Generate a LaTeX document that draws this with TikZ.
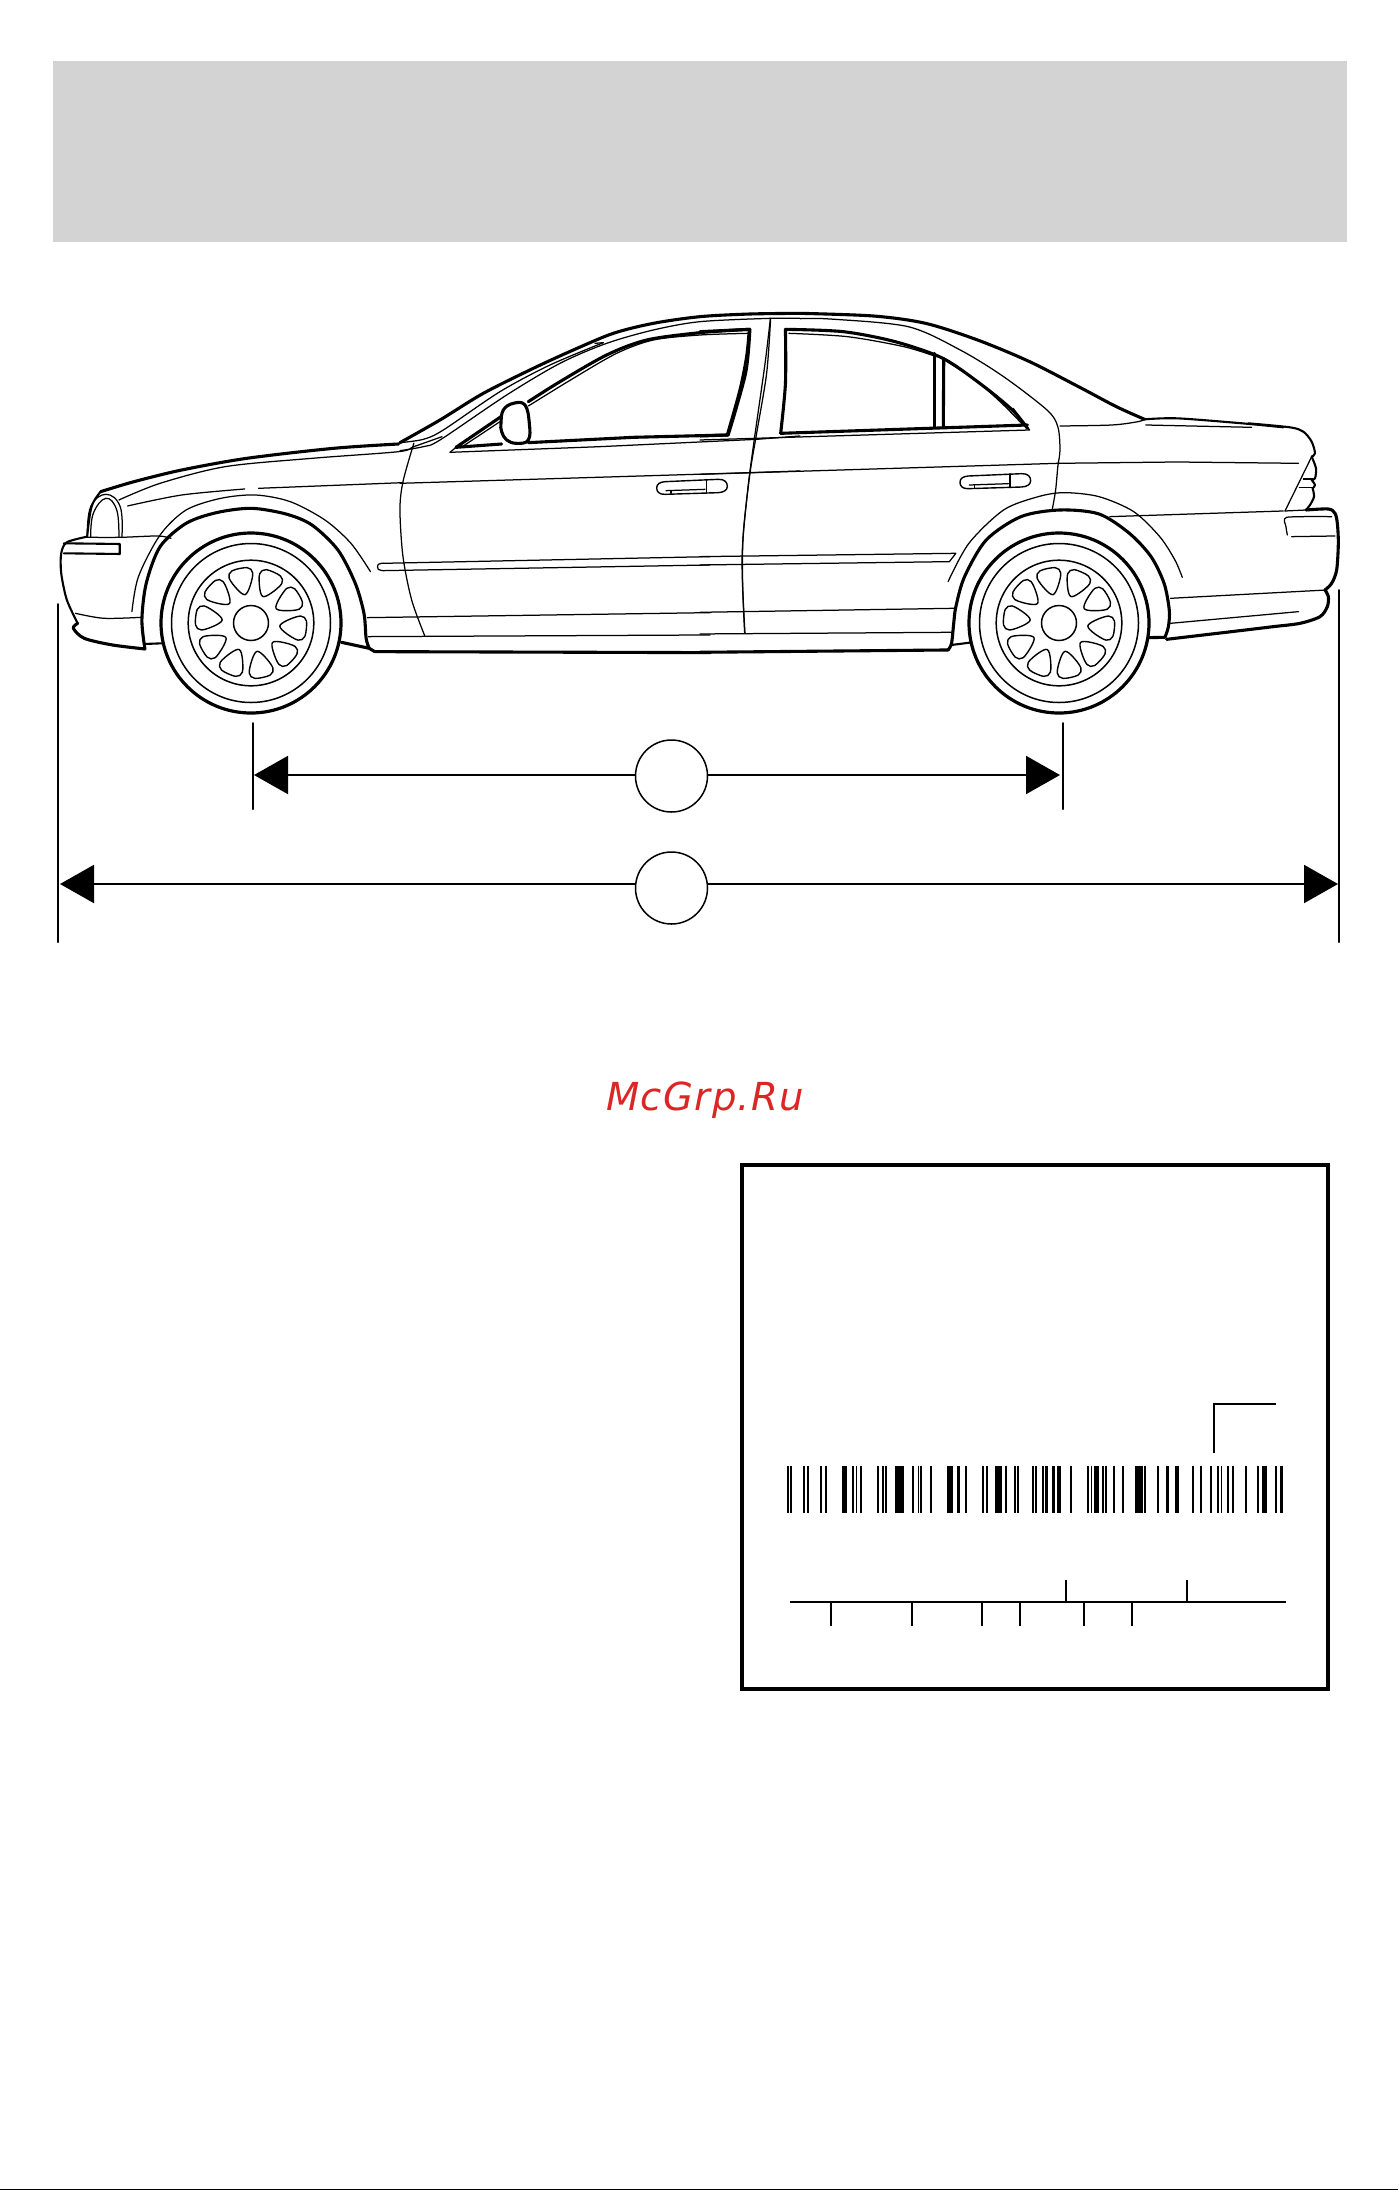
\documentclass[tikz,border=0pt]{standalone}
\usepackage{fontspec}
\usetikzlibrary{arrows.meta}
\newfontfamily\wmfont[LetterSpace=3.6]{DejaVu Sans}
\definecolor{banner}{HTML}{D3D3D3}
\definecolor{wmred}{HTML}{DC2626}
\tikzset{
  zoomA/.style={shift={(30,290)},x=.4337pt,y=-.3333pt},
  zoomB/.style={shift={(700,290)},x=.4337pt,y=-.3333pt},
  zoomC/.style={shift={(400,300)},x=.3333pt,y=-.3333pt},
  zoomD/.style={shift={(1240,400)},x=.3333pt,y=-.3333pt},
  zoomE/.style={shift={(640,460)},x=.3333pt,y=-.3333pt},
  zoomF/.style={shift={(730,1380)},x=.3827pt,y=-.3333pt},
  thk/.style={draw=black,line width=3.1pt},
  mdl/.style={draw=black,line width=2.1pt},
  thn/.style={draw=black,line width=1.25pt},
  dimline/.style={draw=black,line width=2pt,-{Triangle[length=34pt,width=38pt]}},
  extline/.style={draw=black,line width=2pt},
  dimcircle/.style={circle,draw=black,line width=1.5pt,minimum size=72pt,inner sep=0pt},
  lbl/.style={draw=black,line width=2pt},
}
\begin{document}
\begin{tikzpicture}[x=1pt,y=-1pt,line cap=round,line join=round]
\useasboundingbox (0,0) rectangle (1398,2190);
\fill[white] (0,0) rectangle (1398,2190);
\fill[banner] (53,61) rectangle (1347,242);
\fill[black] (0,2188.5) rectangle (1398,2190);

% ---- wheels
\foreach \cx in {251,1059}{
  \begin{scope}[shift={(\cx,623)}]
    \draw[line width=3.2pt] (0,0) circle (90);
    \draw[thn,line width=1.5pt] (0,0) circle (79.5);
    \draw[thn,line width=1.5pt] (0,0) circle (62.8);
    \draw[thn,line width=1.5pt] (0,0) circle (17.5);
    \foreach \a in {0,...,9}{
      \pgfmathsetmacro{\t}{36*\a-66}
      \draw[thn,line width=1.4pt] plot[smooth cycle,tension=.55] coordinates {
        ({\t}:29) ({\t+10}:36) ({\t+14}:50) ({\t+8}:55.5) ({\t-8}:55.5) ({\t-14}:50) ({\t-10}:36)};
    }
  \end{scope}
}

% ---- front half of the car
\begin{scope}[zoomA]
  \draw[thk] plot[smooth,tension=.5] coordinates {(850,462)(700,475)(500,505)(350,540)(240,575)(163,605)};
  \draw[mdl] plot[smooth,tension=.6] coordinates {(163,605)(142,650)(132,738)};
  \draw[mdl] plot[smooth,tension=.5] coordinates {(132,740)(85,757)(72,790)(72,850)(85,930)(110,1000)};
  \draw[thk] plot[smooth,tension=.5] coordinates {(110,1000)(100,1015)(125,1045)(190,1065)(265,1077)};
  \draw[thk] plot[smooth,tension=.5] coordinates {(265,1077)(258,990)(268,880)(300,770)(360,700)(430,668)(510,655)(590,672)(650,705)(710,780)(750,880)(770,970)(775,1045)(782,1075)};
  \draw[mdl] (265,1062) -- (305,1060);
  \draw[thk] (718,1057) -- (782,1075) -- (795,1085);
  \draw[thn] plot[smooth,tension=.5] coordinates {(235,965)(250,860)(300,735)(360,660)(440,625)(520,615)(600,635)(680,690)(740,760)(785,845)};
  \draw[thn] plot[smooth,tension=.5] coordinates {(105,970)(170,985)(258,982)};
  \draw[thn] plot[smooth,tension=.5] coordinates {(132,742)(210,742)(295,738)(325,745)};
  \draw[mdl] (78,760) -- (207,762) -- (207,792) -- (78,790);
  \draw[thn] plot[smooth,tension=.7] coordinates {(140,740)(146,670)(175,625)(200,660)(205,740)};
  \draw[thn] plot[smooth,tension=.7] coordinates {(132,735)(140,650)(175,613)(208,650)(212,740)};
  \draw[thn] plot[smooth,tension=.5] coordinates {(205,630)(300,580)(450,530)(650,505)(850,485)(885,470)(950,440)};
  \draw[thn] plot[smooth,tension=.5] coordinates {(225,648)(350,615)(495,597)};
  \draw[thn] (527,595) -- (860,578);
  \draw[thn] plot[smooth,tension=.5] coordinates {(885,460)(860,575)(853,660)(860,800)(880,930)(910,1037)};
  \draw[thn] plot[smooth,tension=.7] coordinates {(815,820)(803,823)(803,838)(815,842)};
  \draw[thn] (815,820) -- (1568,800);
  \draw[thn] (815,842) -- (1568,825);
  \draw[thn] (778,983) -- (1568,968);
  \draw[thn] (780,1040) -- (1568,1035);
  \draw[thk] (795,1085) -- (1568,1088);
\end{scope}

% ---- doors and glass, middle of the car
\begin{scope}[zoomC]
  \draw[thk] plot[smooth,tension=.5] coordinates {(0,428)(120,360)(250,280)(400,205)(520,150)(640,100)(760,70)(900,50)(1050,42)(1200,40)};
  \draw[thn] plot[smooth,tension=.5] coordinates {(0,428)(70,418)(130,390)(300,275)(450,195)(610,128)};
  \draw[thn] (610,128) -- (585,130);
  \draw[thn] plot[smooth,tension=.5] coordinates {(0,452)(70,440)(120,420)(320,285)(480,190)(620,130)(760,90)(900,65)(1110,55)(1200,55)};
  \draw[thk] plot[smooth,tension=.5] coordinates {(385,305)(480,245)(620,165)(740,120)(900,98)(1048,88)};
  \draw[thk] plot[smooth,tension=.5] coordinates {(1048,88)(1040,170)(1020,270)(982,405)};
  \draw[thk] (982,405) -- (700,412) -- (385,428);
  \draw[thk] (305,432) -- (168,442) -- (303,350);
  \draw[thn] (190,438) -- (300,365);
  \draw[thn] plot[smooth,tension=.5] coordinates {(385,318)(520,235)(650,160)(760,120)(900,105)(1045,100)};
  \draw[thn] (168,442) -- (150,457);
  \draw[thn] (150,457) -- (600,440) -- (1070,418) -- (1200,408);
  \draw[thk] plot[smooth cycle,tension=.7] coordinates {(303,370)(310,330)(340,310)(375,315)(388,370)(385,420)(350,430)(320,420)(305,395)};
  \draw[thn] (0,550) -- (1050,518) -- (1200,513);
  \draw[thn] plot[smooth,tension=.5] coordinates {(1112,55)(1100,220)(1070,400)(1050,520)(1030,700)(1028,850)(1035,1000)};
\end{scope}

% ---- door handles
\begin{scope}[zoomE]
  \foreach \dx/\dy in {0/0,910/-17}{
    \begin{scope}[shift={(\dx,\dy)}]
      \draw[thn,line width=1.4pt] (75,65) -- (235,58) .. controls (255,57) and (262,68) .. (262,79) .. controls (262,90) and (252,97) .. (235,98) -- (75,103) .. controls (58,104) and (50,95) .. (50,84) .. controls (50,72) and (60,66) .. (75,65) -- cycle;
      \draw[thn,line width=1.6pt] (200,59) -- (200,99);
      \draw[thn] (78,92) -- (195,88);
      \draw[thn] (93,92) -- (93,100);
    \end{scope}
  }
\end{scope}

% ---- rear half of the car
\begin{scope}[zoomB]
  \draw[thk] plot[smooth,tension=.5] coordinates {(231,70)(400,78)(520,100)(640,150)(760,215)(880,295)(960,350)(1025,388)};
  \draw[mdl] plot[smooth,tension=.5] coordinates {(1025,388)(1100,385)(1250,400)(1345,412)};
  \draw[thn] plot[smooth,tension=.5] coordinates {(231,86)(300,87)(480,110)(600,180)(700,260)(800,360)(825,410)(830,480)(825,530)(820,600)(812,660)};
  \draw[thk] plot[smooth,tension=.5] coordinates {(197,118)(330,125)(450,155)(560,205)(650,285)(720,360)(755,415)};
  \draw[thn] plot[smooth,tension=.5] coordinates {(205,130)(340,140)(470,170)(545,200)};
  \draw[thn] plot[smooth,tension=.5] coordinates {(570,215)(640,275)(700,345)(745,405)};
  \draw[thk] plot[smooth,tension=.5] coordinates {(186,430)(197,280)(197,118)};
  \draw[thk] (186,430) -- (755,405);
  \draw[thk] (541,190) -- (541,412);
  \draw[thk] (562,205) -- (561,412);
  \draw[thk] (0,125) -- (115,118);
  \draw[thk] plot[smooth,tension=.5] coordinates {(115,118)(105,250)(65,435)};
  \draw[thk] (0,438) -- (65,435);
  \draw[thn] (0,450) -- (760,420) -- (722,355);
  \draw[thn] plot[smooth,tension=.5] coordinates {(830,408)(950,405)(1010,395)(1025,388)};
  \draw[thn] (1028,405) -- (1272,412);
  \draw[thn] (0,553) -- (825,520) -- (1100,516) -- (1380,520);
  \draw[thn] plot[smooth,tension=.5] coordinates {(162,88)(150,220)(125,450)(110,600)(97,800)(103,1030)};
  \draw[thn] (0,800) -- (590,790) -- (575,815) -- (0,825);
  \draw[thn] (0,967) -- (585,955);
  \draw[thn] (0,1032) -- (580,1027);
  \draw[thk] (0,1087) -- (572,1080);
  \draw[thk] plot[smooth,tension=.5] coordinates {(572,1080)(580,1060)(585,1000)(590,950)(610,860)(660,750)(740,680)(830,660)(920,672)(990,730)(1040,800)(1070,880)(1082,960)(1080,1010)(1072,1042)};
  \draw[mdl] (580,1065) -- (622,1058);
  \draw[thk] (1035,1043) -- (1072,1042);
  \draw[thn] plot[smooth,tension=.5] coordinates {(572,875)(620,760)(700,660)(780,620)(840,608)(920,620)(1000,665)(1060,740)(1095,810)(1112,862)};
  \draw[thn] (945,680) -- (1345,663);
  \draw[thn] (1085,925) -- (1445,900);
  \draw[thn] (1085,1000) -- (1380,965);
\end{scope}

% ---- tail lamp and rear bumper
\begin{scope}[zoomD]
  \draw[mdl] plot[smooth,tension=.5] coordinates {(25,70)(150,82)(190,95)(215,125)(225,160)(215,170)};
  \draw[mdl] plot[smooth,tension=.5] coordinates {(215,170)(228,205)(225,235)(215,240)};
  \draw[mdl] plot[smooth,tension=.5] coordinates {(215,240)(225,255)(218,265)};
  \draw[mdl] plot[smooth,tension=.5] coordinates {(218,265)(222,290)(210,315)(198,330)};
  \draw[thk] plot[smooth,tension=.5] coordinates {(198,330)(265,327)(285,340)(292,370)(295,430)(290,510)(275,550)(255,570)};
  \draw[thk] plot[smooth,tension=.5] coordinates {(255,570)(265,590)(262,620)(240,650)(180,670)(100,680)(0,692)(-220,718)};
  \draw[thn] (215,170) -- (135,333);
  \draw[thn] (190,237) -- (218,237);
  \draw[thn] (178,262) -- (218,262);
  \draw[thn] (135,333) -- (198,330);
  \draw[thn] plot[smooth,tension=.4] coordinates {(275,350)(140,352)(138,380)(142,405)};
  \draw[thn] (155,410) -- (285,408);
\end{scope}

% ---- dimension lines
\node[dimcircle] (wb) at (671.5,776) {};
\node[dimcircle] (ol) at (671.5,888) {};
\coordinate (wbL) at (254,775);
\coordinate (wbR) at (1060,775);
\coordinate (olL) at (60,884);
\coordinate (olR) at (1338,884);
\draw[dimline] (wb.west |- wbL) -- (wbL);
\draw[dimline] (wb.east |- wbR) -- (wbR);
\draw[dimline] (ol.west |- olL) -- (olL);
\draw[dimline] (ol.east |- olR) -- (olR);
\coordinate (e1a) at (252.5,723); \coordinate (e1b) at (252.5,809);
\coordinate (e2a) at (1062.5,723); \coordinate (e2b) at (1062.5,809);
\coordinate (e3a) at (57.8,604); \coordinate (e3b) at (57.8,942);
\coordinate (e4a) at (1339,590); \coordinate (e4b) at (1339,942);
\draw[extline] (e1a) -- (e1b);
\draw[extline] (e2a) -- (e2b);
\draw[extline] (e3a) -- (e3b);
\draw[extline] (e4a) -- (e4b);

% ---- watermark
\node[anchor=base west,inner sep=0pt,text=wmred] (mark) at (606,1110)
  {\fontsize{38.6pt}{46pt}\selectfont\wmfont\itshape McGrp.Ru};

% ---- certification label
\draw[line width=4pt,line cap=butt,line join=miter] (742,1164.5) rectangle (1328,1689);
\begin{scope}[zoomF]
  \foreach \a/\b in {149/154,157/161,191/196,200/206,235/240,248/253,293/306,320/325,328/331,339/345,384/390,397/403,405/410,431/443,445/455,476/482,491/495,497/501,523/528,567/582,593/602,614/619,659/664,669/674,693/711,719/724,742/747,750/755,789/795,797/802,814/820,823/831,841/850,855/865,889/894,933/938,943/947,950/964,971/977,979/985,1001/1005,1023/1029,1058/1070,1072/1078,1083/1087,1116/1121,1140/1147,1163/1173,1207/1212,1227/1232,1254/1259,1273/1279,1282/1286,1299/1305,1312/1317,1346/1350,1377/1382,1391/1397,1399/1403,1423/1428,1436/1445}{
    \fill[black] (\a,258) rectangle (\b,398);
  }
  \draw[lbl,line cap=butt] (158,665) -- (1452,665);
  \foreach \x in {264,475,658,757,925,1050}{
    \draw[lbl,line cap=butt] (\x,665) -- (\x,737);
  }
  \foreach \x in {878,1194}{
    \draw[lbl,line cap=butt] (\x,665) -- (\x,600);
  }
  \draw[lbl,line cap=butt,line join=miter] (1265,220) -- (1265,72) -- (1427,72);
\end{scope}
\end{tikzpicture}
\end{document}
